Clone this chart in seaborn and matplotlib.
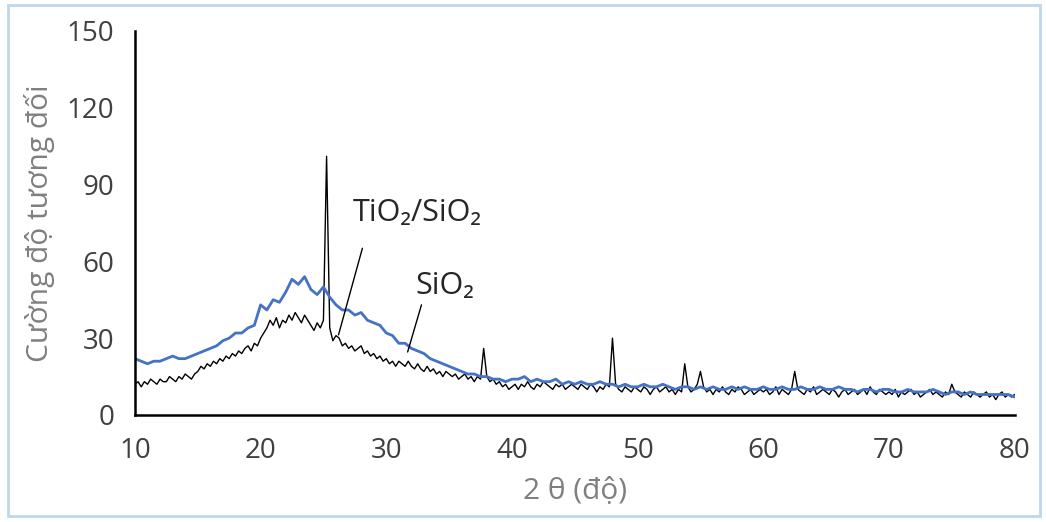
import numpy as np
import pandas as pd
import matplotlib
matplotlib.use("Agg")
import matplotlib.pyplot as plt
import seaborn as sns
from matplotlib.patches import Rectangle

# ---- data ----
tio2_start, tio2_step = 10.0, 0.25
tio2_values = [
    12, 13, 11, 13, 12, 14, 13, 12, 14, 13, 13, 15, 14, 13, 15, 14, 16, 15, 14, 16,   # 10-14.75
    17, 19, 18, 20, 19, 21, 20, 22, 21, 23, 22, 24, 23, 25, 24, 26, 27, 25, 28, 27,   # 15-19.75
    30, 32, 34, 37, 35, 38, 34, 37, 36, 39, 37, 40, 38, 36, 39, 37, 35, 33, 36, 34,   # 20-24.75
    37, 101, 34, 29, 31, 30, 27, 28, 26, 27, 25, 26, 27, 24, 25, 23, 24, 22, 23, 21,  # 25-29.75
    22, 20, 21, 19, 21, 20, 19, 21, 19, 18, 20, 18, 17, 19, 17, 18, 16, 17, 15, 17,   # 30-34.75
    16, 15, 16, 14, 15, 16, 14, 15, 13, 15, 14, 26, 15, 13, 14, 12, 13, 11, 12, 10,   # 35-39.75
    11, 12, 10, 12, 11, 13, 11, 10, 12, 11, 13, 12, 11, 10, 12, 11, 12, 10, 11, 12,   # 40-44.75
    11, 10, 12, 11, 10, 12, 11, 9, 11, 10, 12, 11, 30, 12, 10, 9, 11, 10, 9, 11,      # 45-49.75
    10, 9, 11, 10, 8, 10, 11, 9, 10, 11, 9, 10, 8, 10, 9, 20, 11, 9, 10, 12,          # 50-54.75
    17, 11, 9, 10, 8, 10, 9, 11, 9, 8, 10, 9, 11, 10, 8, 9, 10, 8, 9, 10,             # 55-59.75
    9, 10, 8, 9, 11, 8, 10, 9, 8, 10, 17, 10, 9, 8, 10, 9, 11, 8, 9, 10,              # 60-64.75
    9, 8, 10, 9, 7, 9, 10, 8, 9, 10, 8, 9, 10, 8, 11, 9, 8, 10, 9, 8,                 # 65-69.75
    9, 8, 10, 7, 9, 8, 9, 10, 8, 9, 7, 8, 9, 10, 8, 9, 8, 7, 9, 8,                    # 70-74.75
    12, 9, 8, 7, 9, 8, 7, 9, 8, 7, 8, 9, 7, 8, 6, 8, 9, 7, 8, 7,                      # 75-79.75
    8,
]

sio2_start, sio2_step = 10.0, 0.5
sio2_values = [
    22, 21, 20, 21, 21, 22, 23, 22, 22, 23,   # 10-14.5
    24, 25, 26, 27, 29, 30, 32, 32, 34, 35,   # 15-19.5
    43, 41, 45, 44, 48, 53, 51, 54, 49, 47,   # 20-24.5
    50, 46, 43, 41, 41, 39, 40, 37, 36, 35,   # 25-29.5
    32, 31, 28, 28, 26, 25, 24, 22, 21, 20,   # 30-34.5
    19, 18, 17, 16, 16, 15, 15, 14, 14, 13,   # 35-39.5
    14, 14, 15, 13, 14, 13, 13, 14, 12, 13,   # 40-44.5
    12, 13, 12, 12, 13, 12, 12, 11, 12, 11,   # 45-49.5
    11, 12, 11, 11, 12, 11, 10, 11, 11, 10,   # 50-54.5
    11, 10, 11, 10, 10, 11, 10, 11, 10, 10,   # 55-59.5
    11, 10, 10, 11, 10, 10, 11, 10, 10, 11,   # 60-64.5
    10, 10, 11, 10, 10, 9, 10, 10, 9, 10,     # 65-69.5
    10, 9, 9, 10, 9, 9, 9, 10, 9, 8,          # 70-74.5
    9, 9, 8, 9, 8, 8, 8, 8, 8, 8,             # 75-79.5
    7,
]

x_ticks = [10, 20, 30, 40, 50, 60, 70, 80]
y_ticks = [0, 30, 60, 90, 120, 150]
x_label = "2 θ (độ)"
y_label = "Cường độ tương đối"
label_tio2 = "TiO₂/SiO₂"
label_sio2 = "SiO₂"

# ---- build frames ----
tio2_x = tio2_start + tio2_step * np.arange(len(tio2_values))
sio2_x = sio2_start + sio2_step * np.arange(len(sio2_values))
df_t = pd.DataFrame({"x": tio2_x, "y": tio2_values})
df_s = pd.DataFrame({"x": sio2_x, "y": sio2_values})

sns.set_theme(style="white")
plt.rcParams["font.family"] = ["Open Sans", "DejaVu Sans"]

fig = plt.figure(figsize=(10.46, 5.22), dpi=100)
ax = fig.add_axes([0.129, 0.205, 0.841, 0.736])

sns.lineplot(data=df_t, x="x", y="y", ax=ax, color="black", lw=1.0, estimator=None)
sns.lineplot(data=df_s, x="x", y="y", ax=ax, color="#4472C4", lw=2.0, estimator=None)

ax.set_xlim(10, 80)
ax.set_ylim(0, 150)
ax.set_xticks(x_ticks)
ax.set_yticks(y_ticks)
for s in ["top", "right"]:
    ax.spines[s].set_visible(False)
for s in ["left", "bottom"]:
    ax.spines[s].set_color("black")
    ax.spines[s].set_linewidth(1.8)
ax.tick_params(axis="both", direction="out", length=6, width=1.8, color="black",
               labelsize=20, labelcolor="#404040")
ax.tick_params(axis="y", pad=9)
ax.tick_params(axis="x", pad=10)

ax.set_xlabel(x_label, fontsize=21.5, color="#7f7f7f", va="center")
ax.set_ylabel(y_label, fontsize=21.5, color="#7f7f7f", va="center")
ax.xaxis.set_label_coords(0.5, -0.20)
ax.yaxis.set_label_coords(-0.108, 0.5)

# annotations: labels and leader lines
ax.text(32.5, 79, label_tio2, fontsize=22, color="#262626", ha="center", va="center")
ax.text(34.7, 50.5, label_sio2, fontsize=22, color="#262626", ha="center", va="center")
ax.plot([28.1, 26.2], [65.1, 31.3], color="black", lw=1.0)
ax.plot([32.8, 31.7], [43.0, 24.6], color="black", lw=1.0)

fig.patches.append(Rectangle((0.008, 0.012), 0.986, 0.978, transform=fig.transFigure,
                             fill=False, edgecolor="#BDD7EE", lw=2))

fig.savefig("out.png", dpi=100)
